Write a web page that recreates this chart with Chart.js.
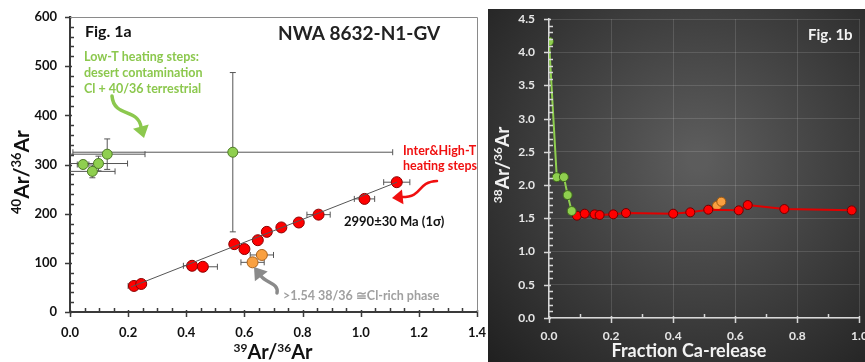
<!DOCTYPE html>
<html>
<head>
<meta charset="utf-8">
<script src="https://cdn.jsdelivr.net/npm/chart.js@4.4.1/dist/chart.umd.min.js"></script>
<style>
  body { margin: 0; background: #fff; }
  #wrap { position: relative; width: 865px; height: 362px; overflow: hidden; }
  #c1 { position: absolute; left: 0; top: 0; }
  #c2 { position: absolute; left: 488px; top: 9px; }
</style>
</head>
<body>
<div id="wrap">
  <canvas id="c1" width="487" height="362"></canvas>
  <canvas id="c2" width="377" height="353"></canvas>
</div>
<script>
// Fig. 1a : 40Ar/36Ar vs 39Ar/36Ar
const lowX = [0.045, 0.077, 0.098, 0.128, 0.56]
const lowY = [300, 286, 302, 321, 325]
const lowXErr = [0.02, 0.078, 0.1, 0.13, 0.55]
const lowYErr = [8, 13, 15, 31, 162]

const highX = [0.22, 0.245, 0.42, 0.457, 0.565, 0.6, 0.646, 0.677, 0.727, 0.787, 0.855, 1.013, 1.124]
const highY = [53, 57, 94, 92, 138, 128, 146, 163, 172, 182, 198, 230, 264]
const highXErr = [0.02, 0.01, 0.03, 0.05, 0, 0, 0, 0, 0, 0, 0.04, 0.035, 0.045]

const clX = [0.628, 0.66]
const clY = [101, 116]
const clXErr = [0.04, 0.04]

// isochron fit (2990 +/- 30 Ma)
const isoX = [0.21, 1.125]
const isoY = [51, 264]

const xTicks1 = [0, 0.2, 0.4, 0.6, 0.8, 1.0, 1.2, 1.4]
const yTicks1 = [0, 100, 200, 300, 400, 500, 600]

// Fig. 1b : 38Ar/36Ar vs fraction Ca-release
const relGreenX = [0, 0.025, 0.048, 0.06, 0.073]
const relGreenY = [4.16, 2.12, 2.12, 1.85, 1.61]
const relRedX = [0.09, 0.115, 0.147, 0.163, 0.207, 0.248, 0.40, 0.455, 0.513, 0.611, 0.64, 0.758, 0.975]
const relRedY = [1.54, 1.57, 1.56, 1.55, 1.56, 1.58, 1.57, 1.59, 1.63, 1.62, 1.70, 1.64, 1.62]
const relOrangeX = [0.541, 0.555]
const relOrangeY = [1.69, 1.75]

const xTicks2 = [0, 0.2, 0.4, 0.6, 0.8, 1.0]
const yTicks2 = [0, 0.5, 1.0, 1.5, 2.0, 2.5, 3.0, 3.5, 4.0, 4.5]

Chart.defaults.font.family = 'Lato'
Chart.defaults.animation = false

const pts = (xs, ys) => xs.map((x, i) => ({ x: x, y: ys[i] }))
const setTicks = vals => scale => { scale.ticks = vals.map(v => ({ value: v })) }

function fixBox(w, h) {
    return scale => {
        if (w) scale.width = w
        if (h) scale.height = h
        scale.paddingLeft = 0
        scale.paddingRight = 0
        scale.paddingTop = 0
        scale.paddingBottom = 0
    }
}

// text with superscript parts: [['39', true], ['Ar/', false], ...]
function rich(ctx, parts, x, y, size, color, align) {
    const big = 'bold ' + size + 'px Lato'
    const small = 'bold ' + Math.round(size * 0.62) + 'px Lato'
    let total = 0
    parts.forEach(p => {
        ctx.font = p[1] ? small : big
        total += ctx.measureText(p[0]).width
    })
    let cx = align === 'center' ? x - total / 2 : x
    ctx.fillStyle = color
    ctx.textBaseline = 'alphabetic'
    ctx.textAlign = 'left'
    parts.forEach(p => {
        ctx.font = p[1] ? small : big
        ctx.fillText(p[0], cx, p[1] ? y - size * 0.36 : y)
        cx += ctx.measureText(p[0]).width
    })
}

function text(ctx, str, x, y, font, color) {
    ctx.font = font
    ctx.fillStyle = color
    ctx.textAlign = 'left'
    ctx.textBaseline = 'middle'
    ctx.fillText(str, x, y)
}

function arrow(ctx, from, c1, c2, to, tip, color, width) {
    ctx.strokeStyle = color
    ctx.fillStyle = color
    ctx.lineWidth = width
    ctx.lineCap = 'round'
    ctx.beginPath()
    ctx.moveTo(from[0], from[1])
    ctx.bezierCurveTo(c1[0], c1[1], c2[0], c2[1], to[0], to[1])
    ctx.stroke()
    const ang = Math.atan2(tip[1] - to[1], tip[0] - to[0])
    const len = Math.hypot(tip[0] - to[0], tip[1] - to[1]) + 3
    ctx.beginPath()
    ctx.moveTo(tip[0], tip[1])
    ctx.lineTo(tip[0] - len * Math.cos(ang - 0.6), tip[1] - len * Math.sin(ang - 0.6))
    ctx.lineTo(tip[0] - len * Math.cos(ang + 0.6), tip[1] - len * Math.sin(ang + 0.6))
    ctx.closePath()
    ctx.fill()
}

// major ticks crossing the axis, minor ticks inside
function tickMarks(color, xMajor, xMinor, yMajor, yMinor) {
    return {
        id: 'tickMarks',
        afterDraw(chart) {
            const { ctx, chartArea: a, scales: { x, y } } = chart
            ctx.save()
            ctx.strokeStyle = color
            ctx.lineWidth = 1.5
            ctx.beginPath()
            for (let v = x.min; v <= x.max + 1e-9; v += xMinor) {
                const px = Math.round(x.getPixelForValue(v)) + 0.5
                const major = Math.abs(v / xMajor - Math.round(v / xMajor)) < 1e-6
                ctx.moveTo(px, major ? a.bottom - 2 : a.bottom)
                ctx.lineTo(px, major ? a.bottom + 5 : a.bottom - 4)
            }
            for (let v = y.min; v <= y.max + 1e-9; v += yMinor) {
                const py = Math.round(y.getPixelForValue(v)) + 0.5
                const major = Math.abs(v / yMajor - Math.round(v / yMajor)) < 1e-6
                ctx.moveTo(major ? a.left + 2 : a.left, py)
                ctx.lineTo(major ? a.left - 5 : a.left + 4, py)
            }
            ctx.stroke()
            ctx.restore()
        }
    }
}

const errorBars = {
    id: 'errorBars',
    beforeDatasetsDraw(chart) {
        const { ctx, scales: { x, y } } = chart
        ctx.save()
        ctx.strokeStyle = '#555'
        ctx.lineWidth = 1
        ctx.beginPath()
        chart.data.datasets.forEach(ds => {
            if (!ds.xErr && !ds.yErr) return
            ds.data.forEach((p, i) => {
                const px = x.getPixelForValue(p.x)
                const py = y.getPixelForValue(p.y)
                const ex = ds.xErr ? ds.xErr[i] : 0
                const ey = ds.yErr ? ds.yErr[i] : 0
                if (ex) {
                    const lo = p.x - ex
                    const a = x.getPixelForValue(Math.max(lo, 0))
                    const b = x.getPixelForValue(p.x + ex)
                    ctx.moveTo(a, py); ctx.lineTo(b, py)
                    ctx.moveTo(b, py - 3); ctx.lineTo(b, py + 3)
                    if (lo > 0) { ctx.moveTo(a, py - 3); ctx.lineTo(a, py + 3) }
                }
                if (ey) {
                    const a = y.getPixelForValue(p.y - ey)
                    const b = y.getPixelForValue(p.y + ey)
                    ctx.moveTo(px, a); ctx.lineTo(px, b)
                    ctx.moveTo(px - 3, a); ctx.lineTo(px + 3, a)
                    ctx.moveTo(px - 3, b); ctx.lineTo(px + 3, b)
                }
            })
        })
        ctx.stroke()
        ctx.restore()
    }
}

const notes1 = {
    id: 'notes1',
    afterDraw(chart) {
        const { ctx, chartArea: a } = chart
        ctx.save()
        // frame top and right
        ctx.strokeStyle = '#8a8a8a'
        ctx.lineWidth = 1
        ctx.beginPath()
        ctx.moveTo(a.left, a.top + 0.5); ctx.lineTo(a.right + 0.5, a.top + 0.5); ctx.lineTo(a.right + 0.5, a.bottom)
        ctx.stroke()

        text(ctx, 'Fig. 1a', 85, 32, 'bold 16px Lato', '#111')
        text(ctx, 'NWA 8632-N1-GV', 278, 34, 'bold 19px Lato', '#222')

        const g = '#8cc84e'
        text(ctx, 'Low-T heating steps:', 84, 57, 'bold 12.5px Lato', g)
        text(ctx, 'desert contamination', 84, 73, 'bold 12.5px Lato', g)
        text(ctx, 'Cl + 40/36 terrestrial', 84, 89, 'bold 12.5px Lato', g)
        arrow(ctx, [112, 96], [114, 118], [138, 108], [141, 127], [144, 138], g, 3.5)

        text(ctx, 'Inter&High-T', 403, 151, 'bold 12.5px Lato', '#f01010')
        text(ctx, 'heating steps', 403, 166, 'bold 12.5px Lato', '#f01010')
        arrow(ctx, [437, 181], [416, 182], [424, 197], [402, 197], [392, 198], '#f01010', 2.5)

        text(ctx, '2990\u00b130 Ma (1\u03c3)', 344, 222, 'bold 13px Lato', '#111')

        text(ctx, '>1.54 38/36 \u2245Cl-rich phase', 283, 296, 'bold 12.5px Lato', '#a0a0a0')
        arrow(ctx, [277, 293], [279, 283], [266, 283], [261, 276], [254, 267], '#8a8a8a', 3.5)

        // axis titles
        rich(ctx, [['39', true], ['Ar/', false], ['36', true], ['Ar', false]], 273, 359, 20, '#111', 'center')
        ctx.translate(29, 172)
        ctx.rotate(-Math.PI / 2)
        rich(ctx, [['40', true], ['Ar/', false], ['36', true], ['Ar', false]], 0, 0, 21, '#111', 'center')
        ctx.restore()
    }
}

const bgDark = {
    id: 'bgDark',
    beforeDraw(chart) {
        const { ctx, width, height } = chart
        const grad = ctx.createRadialGradient(210, 150, 10, 210, 150, 300)
        grad.addColorStop(0, '#5c5c5c')
        grad.addColorStop(1, '#1e1e1e')
        ctx.save()
        ctx.fillStyle = grad
        ctx.fillRect(0, 0, width, height)
        ctx.restore()
    }
}

const notes2 = {
    id: 'notes2',
    afterDraw(chart) {
        const ctx = chart.ctx
        ctx.save()
        text(ctx, 'Fig. 1b', 320, 26, 'bold 15px Lato', '#f2f2f2')
        rich(ctx, [['Fraction Ca-release', false]], 201, 348, 18, '#f2f2f2', 'center')
        ctx.translate(21, 156)
        ctx.rotate(-Math.PI / 2)
        rich(ctx, [['38', true], ['Ar/', false], ['36', true], ['Ar', false]], 0, 0, 19, '#f2f2f2', 'center')
        ctx.restore()
    }
}

new Chart(document.getElementById('c1'), {
    type: 'scatter',
    data: {
        datasets: [
            {
                label: 'isochron', data: pts(isoX, isoY), showLine: true,
                borderColor: '#555', borderWidth: 1, pointRadius: 0
            },
            {
                label: 'Low-T', data: pts(lowX, lowY), xErr: lowXErr, yErr: lowYErr,
                pointRadius: 5, pointBackgroundColor: '#8fcf4f', pointBorderColor: '#4d7a25', pointBorderWidth: 1
            },
            {
                label: 'Inter&High-T', data: pts(highX, highY), xErr: highXErr,
                pointRadius: 5.5, pointBackgroundColor: '#ff0000', pointBorderColor: '#8a0000', pointBorderWidth: 1
            },
            {
                label: 'Cl-rich', data: pts(clX, clY), xErr: clXErr,
                pointRadius: 5.5, pointBackgroundColor: '#f9a040', pointBorderColor: '#a8601a', pointBorderWidth: 1
            }
        ]
    },
    options: {
        responsive: false,
        layout: { padding: { top: 17, right: 10, left: 0, bottom: 0 } },
        plugins: { legend: { display: false }, tooltip: { enabled: false } },
        scales: {
            x: {
                min: 0, max: 1.4,
                afterBuildTicks: setTicks(xTicks1),
                afterFit: fixBox(0, 50),
                grid: { display: false, drawTicks: false },
                border: { color: '#3a3a3a', width: 2 },
                ticks: { padding: 13, color: '#111', font: { size: 13, weight: 'bold' }, callback: v => v.toFixed(1) }
            },
            y: {
                min: 0, max: 600,
                afterBuildTicks: setTicks(yTicks1),
                afterFit: fixBox(70, 0),
                grid: { display: false, drawTicks: false },
                border: { color: '#3a3a3a', width: 2 },
                ticks: { padding: 13, color: '#111', font: { size: 13, weight: 'bold' } }
            }
        }
    },
    plugins: [errorBars, tickMarks('#3a3a3a', 0.2, 0.05, 100, 20), notes1]
})

new Chart(document.getElementById('c2'), {
    type: 'scatter',
    data: {
        datasets: [
            {
                label: 'Low-T', data: pts(relGreenX, relGreenY), showLine: true,
                borderColor: '#8fcf4f', borderWidth: 2,
                pointRadius: 4.5, pointBackgroundColor: '#8fcf4f', pointBorderColor: '#3f6a1a', pointBorderWidth: 1
            },
            {
                label: 'Inter&High-T', data: pts(relRedX, relRedY), showLine: true,
                borderColor: '#e00000', borderWidth: 2,
                pointRadius: 4.5, pointBackgroundColor: '#ff0000', pointBorderColor: '#700000', pointBorderWidth: 1
            },
            {
                label: 'Cl-rich', data: pts(relOrangeX, relOrangeY),
                pointRadius: 4.5, pointBackgroundColor: '#f9a040', pointBorderColor: '#a05a10', pointBorderWidth: 1
            }
        ]
    },
    options: {
        responsive: false,
        layout: { padding: { top: 10, right: 2, left: 0, bottom: 0 } },
        plugins: { legend: { display: false }, tooltip: { enabled: false } },
        scales: {
            x: {
                min: 0, max: 1.0,
                afterBuildTicks: setTicks(xTicks2),
                afterFit: fixBox(0, 44),
                grid: { color: 'rgba(255,255,255,0.13)', drawTicks: false },
                border: { color: '#d8d8d8', width: 1.5 },
                ticks: { padding: 11, color: '#e6e6e6', font: { size: 12, weight: 'bold' }, callback: v => v.toFixed(1) }
            },
            y: {
                min: 0, max: 4.5,
                afterBuildTicks: setTicks(yTicks2),
                afterFit: fixBox(61, 0),
                grid: { color: 'rgba(255,255,255,0.13)', drawTicks: false },
                border: { color: '#d8d8d8', width: 1.5 },
                ticks: { padding: 14, color: '#e6e6e6', font: { size: 12, weight: 'bold' }, callback: v => v.toFixed(1) }
            }
        }
    },
    plugins: [bgDark, tickMarks('#d8d8d8', 0.2, 0.1, 0.5, 0.1), notes2]
})
</script>
</body>
</html>
